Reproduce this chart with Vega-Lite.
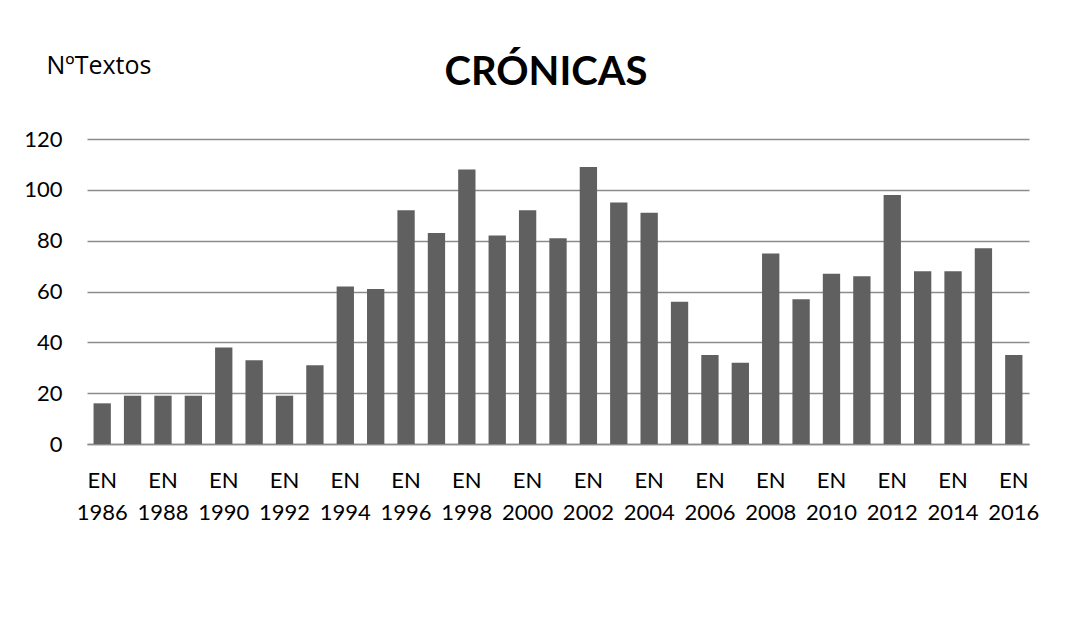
{
  "$schema": "https://vega.github.io/schema/vega-lite/v6.json",
  "width": 942,
  "height": 305,
  "autosize": {"type": "none"},
  "padding": {"left": 87, "top": 139, "right": 41, "bottom": 192},
  "background": "white",
  "title": {
    "text": "CRÓNICAS",
    "font": "Lato",
    "fontSize": 40,
    "fontWeight": "bold",
    "color": "#000000",
    "anchor": "middle",
    "baseline": "alphabetic",
    "dx": -12,
    "dy": 129,
    "offset": 57
  },
  "data": {
    "values": [
      {"year": 1986, "textos": 16},
      {"year": 1987, "textos": 19},
      {"year": 1988, "textos": 19},
      {"year": 1989, "textos": 19},
      {"year": 1990, "textos": 38},
      {"year": 1991, "textos": 33},
      {"year": 1992, "textos": 19},
      {"year": 1993, "textos": 31},
      {"year": 1994, "textos": 62},
      {"year": 1995, "textos": 61},
      {"year": 1996, "textos": 92},
      {"year": 1997, "textos": 83},
      {"year": 1998, "textos": 108},
      {"year": 1999, "textos": 82},
      {"year": 2000, "textos": 92},
      {"year": 2001, "textos": 81},
      {"year": 2002, "textos": 109},
      {"year": 2003, "textos": 95},
      {"year": 2004, "textos": 91},
      {"year": 2005, "textos": 56},
      {"year": 2006, "textos": 35},
      {"year": 2007, "textos": 32},
      {"year": 2008, "textos": 75},
      {"year": 2009, "textos": 57},
      {"year": 2010, "textos": 67},
      {"year": 2011, "textos": 66},
      {"year": 2012, "textos": 98},
      {"year": 2013, "textos": 68},
      {"year": 2014, "textos": 68},
      {"year": 2015, "textos": 77},
      {"year": 2016, "textos": 35}
    ]
  },
  "mark": {"type": "bar", "color": "#606060"},
  "encoding": {
    "x": {
      "field": "year",
      "type": "ordinal",
      "scale": {"paddingInner": 0.43, "paddingOuter": 0.215},
      "axis": {
        "title": null,
        "labelAngle": 0,
        "labelFont": "Lato",
        "labelFontSize": 22,
        "labelColor": "#000000",
        "labelPadding": 26,
        "labelLineHeight": 32,
        "labelOverlap": false,
        "labelBound": false,
        "labelFlush": false,
        "ticks": false,
        "domainColor": "#8c8c8c",
        "domainWidth": 1.5,
        "labelExpr": "datum.value % 2 == 0 ? ['EN', '' + datum.value] : ''"
      }
    },
    "y": {
      "field": "textos",
      "type": "quantitative",
      "scale": {"domain": [0, 120], "nice": false},
      "axis": {
        "values": [0, 20, 40, 60, 80, 100, 120],
        "grid": true,
        "gridColor": "#8c8c8c",
        "gridWidth": 1.5,
        "domain": false,
        "ticks": false,
        "labelFont": "Lato",
        "labelFontSize": 22,
        "labelColor": "#000000",
        "labelPadding": 25,
        "title": "NºTextos",
        "titleFont": "Open Sans",
        "titleFontSize": 25,
        "titleFontWeight": "normal",
        "titleColor": "#000000",
        "titleAngle": 0,
        "titleAlign": "left",
        "titleBaseline": "alphabetic",
        "titleX": -41,
        "titleY": -66
      }
    }
  },
  "config": {"view": {"stroke": null}}
}
